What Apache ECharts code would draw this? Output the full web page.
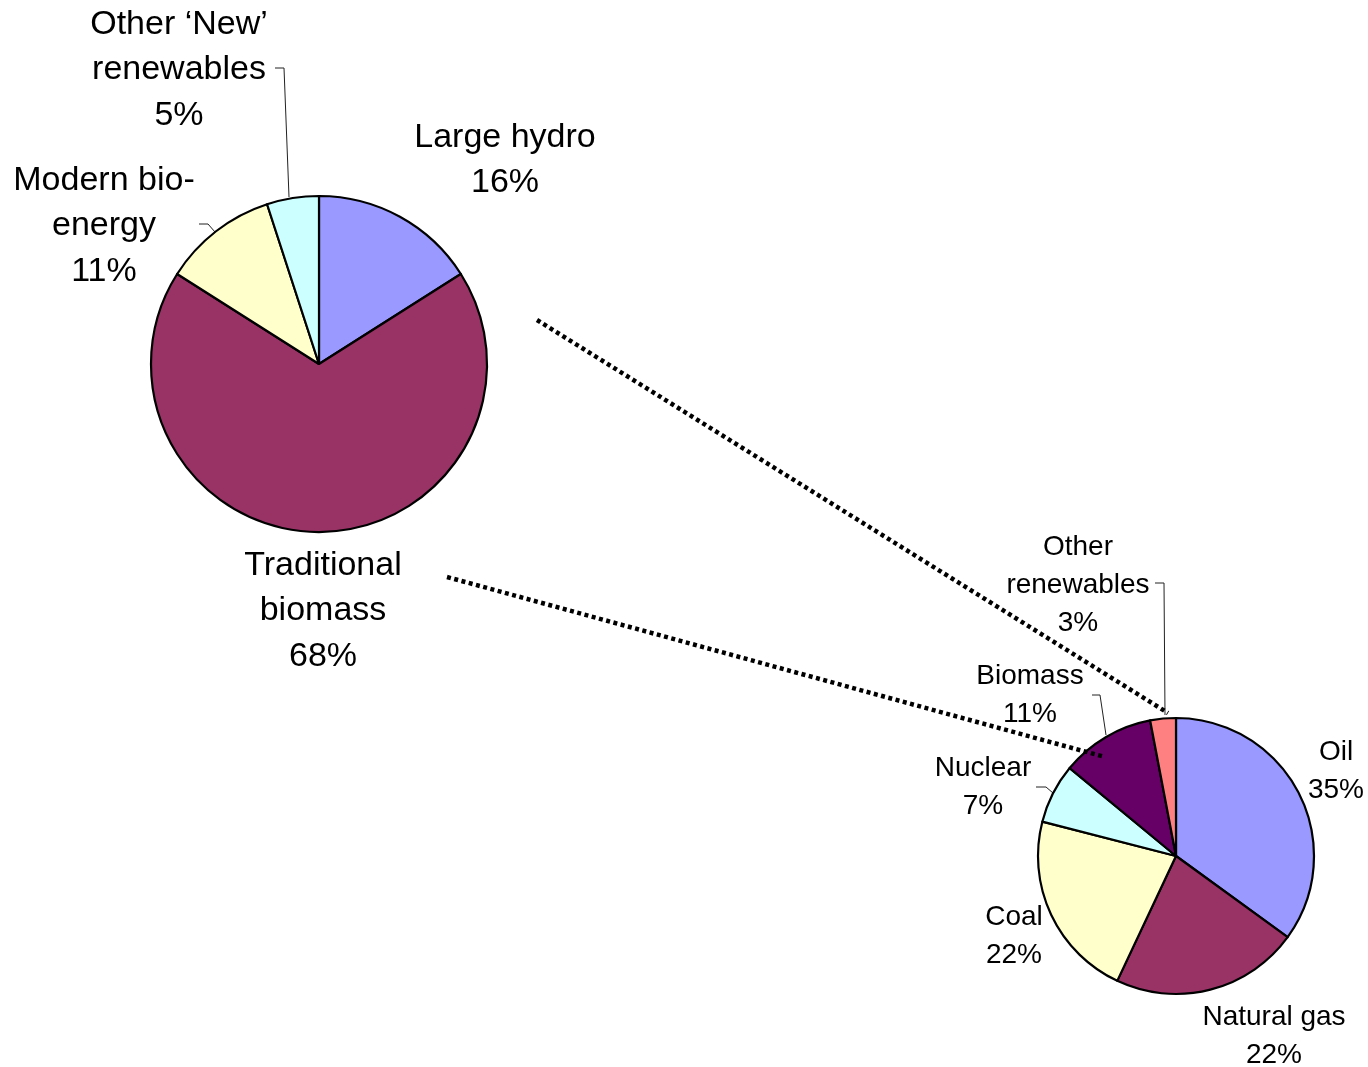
<!DOCTYPE html>
<html>
<head>
<meta charset="utf-8">
<script src="https://cdn.jsdelivr.net/npm/echarts@6/dist/echarts.min.js"></script>
<style>
html,body{margin:0;padding:0;background:#fff;}
#chart{width:1368px;height:1067px;}
</style>
</head>
<body>
<div id="chart"></div>
<script>
// Renewables breakdown (large pie)
const renewNames = ["Large hydro", "Traditional\nbiomass", "Modern bio-\nenergy", "Other \u2018New\u2019\nrenewables"];
const renewValues = [16, 68, 11, 5];
const renewColors = ["#9999FF", "#993366", "#FFFFCC", "#CCFFFF"];

// Total energy breakdown (small pie)
const totalNames = ["Oil", "Natural gas", "Coal", "Nuclear", "Biomass", "Other\nrenewables"];
const totalValues = [35, 22, 22, 7, 11, 3];
const totalColors = ["#9999FF", "#993366", "#FFFFCC", "#CCFFFF", "#660066", "#FF8080"];

// label placements (text block centre) and leader lines
const bigLabelPos = [
  {x: 505, y: 160},
  {x: 323, y: 611},
  {x: 104, y: 226, line: [[215, 232], [208, 224], [199, 224]]},
  {x: 179, y: 70, line: [[289, 197], [284, 68], [275, 68]]}
];
const smallLabelPos = [
  {x: 1336, y: 771},
  {x: 1274, y: 1036},
  {x: 1014, y: 936},
  {x: 983, y: 787, line: [[1053, 793], [1046, 787], [1036, 787]]},
  {x: 1030, y: 695, line: [[1106, 735], [1100, 695], [1092, 695]]},
  {x: 1078, y: 585, line: [[1165, 715], [1164, 583], [1155, 583]]}
];

function buildData(names, values, colors, pos) {
  return names.map((n, i) => ({
    name: n, value: values[i],
    itemStyle: {color: colors[i]},
    labelLine: {show: !!pos[i].line}
  }));
}

const chart = echarts.init(document.getElementById('chart'), null, {renderer: 'canvas'});

function makeLayout(pos) {
  return function (params) {
    const p = pos[params.dataIndex];
    const r = {x: p.x, y: p.y, align: 'center', verticalAlign: 'middle'};
    if (p.line) r.labelLinePoints = p.line;
    return r;
  };
}

const labelBase = {
  show: true,
  position: 'outside',
  formatter: '{b}\n{c}%',
  color: '#000',
  fontFamily: 'Liberation Sans, Arial, sans-serif',
  align: 'center'
};

const option = {
  backgroundColor: '#ffffff',
  animation: false,
  series: [
    {
      type: 'pie',
      center: [319, 364],
      radius: 168,
      startAngle: 90,
      clockwise: true,
      avoidLabelOverlap: false,
      data: buildData(renewNames, renewValues, renewColors, bigLabelPos),
      itemStyle: {borderColor: '#000', borderWidth: 2.2},
      label: Object.assign({}, labelBase, {fontSize: 34, lineHeight: 45.5}),
      labelLine: {lineStyle: {color: '#222', width: 1}},
      labelLayout: makeLayout(bigLabelPos),
      emphasis: {disabled: true}
    },
    {
      type: 'pie',
      center: [1176, 856],
      radius: 138,
      startAngle: 90,
      clockwise: true,
      avoidLabelOverlap: false,
      data: buildData(totalNames, totalValues, totalColors, smallLabelPos),
      itemStyle: {borderColor: '#000', borderWidth: 2.2},
      label: Object.assign({}, labelBase, {fontSize: 28, lineHeight: 38}),
      labelLine: {lineStyle: {color: '#222', width: 1}},
      labelLayout: makeLayout(smallLabelPos),
      emphasis: {disabled: true}
    }
  ],
  graphic: [
    {
      type: 'line', z: 100,
      shape: {x1: 537, y1: 320, x2: 1168, y2: 713},
      style: {stroke: '#000', lineWidth: 4.5, lineDash: [4, 3.5]}
    },
    {
      type: 'line', z: 100,
      shape: {x1: 447, y1: 577, x2: 1105, y2: 757},
      style: {stroke: '#000', lineWidth: 4.5, lineDash: [4, 3.5]}
    }
  ]
};
chart.setOption(option);
</script>
</body>
</html>
